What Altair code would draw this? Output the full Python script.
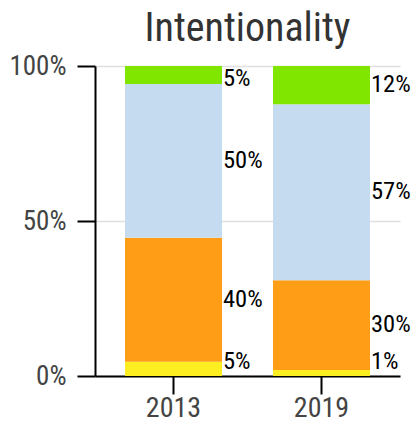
import altair as alt
import pandas as pd

years = ["2013", "2019"]
categories = ["Level 1", "Level 2", "Level 3", "Level 4"]  # bottom -> top
colors = ["#FCEE21", "#FF9E16", "#C5DCF0", "#80E600"]
values_2013 = [4.6, 40.0, 49.6, 5.8]
values_2019 = [1.9, 29.0, 56.8, 12.3]
labels_2013 = ["5%", "40%", "50%", "5%"]
labels_2019 = ["1%", "30%", "57%", "12%"]

rows = []
for year, vals, labs in [("2013", values_2013, labels_2013), ("2019", values_2019, labels_2019)]:
    cum = 0.0
    for i, (c, v, l) in enumerate(zip(categories, vals, labs)):
        mid = cum + v / 2
        cum += v
        rows.append({"year": year, "cat": c, "order": i, "value": v,
                     "label": l, "labpos": min(max(mid, 4.5), 95.8)})
df = pd.DataFrame(rows)

FONT = "Roboto Condensed, Liberation Sans Narrow, Roboto, sans-serif"

x = alt.X("year:N", sort=years, title=None,
          scale=alt.Scale(paddingInner=0.3446, paddingOuter=0.2027, align=0.5),
          axis=alt.Axis(labelAngle=0, labelFont=FONT, labelFontSize=28, labelColor="#444",
                        tickSize=18, tickWidth=2, tickColor="black",
                        domainColor="black", domainWidth=2, labelPadding=0, grid=False))

bars = alt.Chart(df).mark_bar().encode(
    x=x,
    y=alt.Y("value:Q", stack="zero", title=None,
            scale=alt.Scale(domain=[0, 100]),
            axis=alt.Axis(values=[0, 50, 100], labelExpr="datum.value + '%'",
                          labelFont=FONT, labelFontSize=27, labelColor="#444",
                          tickSize=18, tickWidth=2, tickColor="black",
                          domainColor="black", domainWidth=2, labelPadding=11,
                          grid=True, gridColor="#e0e0e0", gridWidth=1.5)),
    color=alt.Color("cat:N", scale=alt.Scale(domain=categories, range=colors), legend=None),
    order=alt.Order("order:Q"),
)

texts = alt.Chart(df).mark_text(align="left", baseline="middle", dx=49.5,
                                font=FONT, fontSize=24.5, color="black").encode(
    x=alt.X("year:N", sort=years),
    y=alt.Y("labpos:Q"),
    text="label:N",
)

chart = alt.layer(bars, texts).properties(
    width=305, height=310,
    title=alt.Title("Intentionality", font=FONT, fontSize=40, fontWeight="normal",
                    color="#333", anchor="middle", offset=3),
    padding={"left": 0, "top": 1, "right": 0, "bottom": 0},
).configure_view(stroke=None)

chart.save("out.html", embed_options={"renderer": "svg", "actions": False})
